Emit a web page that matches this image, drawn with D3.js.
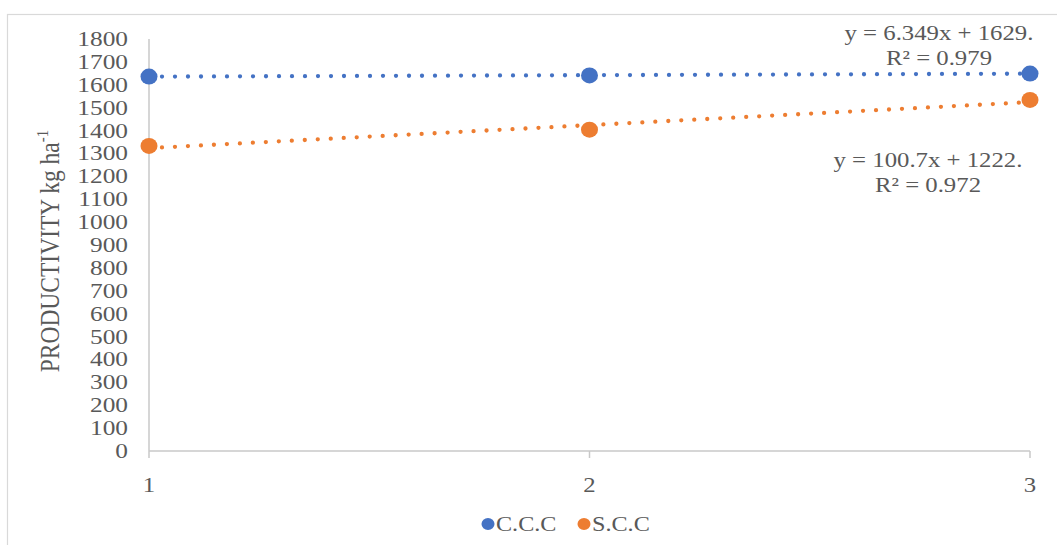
<!DOCTYPE html>
<html><head><meta charset="utf-8">
<script src="https://cdn.jsdelivr.net/npm/d3@7"></script>
<style>
html,body{margin:0;padding:0;background:#fff;}
svg text{font-family:"Liberation Serif","Times New Roman",serif;fill:#595959;}
</style></head>
<body>
<div id="chart"></div>
<script>
const xValues = [1, 2, 3];
const cccValues = [1636, 1641, 1649];
const sccValues = [1333, 1404, 1534];
const yTicks = [0,100,200,300,400,500,600,700,800,900,1000,1100,1200,1300,1400,1500,1600,1700,1800];
const seriesNames = ["C.C.C", "S.C.C"];
const seriesColors = ["#4472C4", "#ED7D31"];
const cccEquation = ["y = 6.349x + 1629.", "R² = 0.979"];
const sccEquation = ["y = 100.7x + 1222.", "R² = 0.972"];
const yTitle = "PRODUCTIVITY kg ha";
const yTitleSup = "-1";

const W = 1057, H = 545;
const sx = 1.18; // horizontal stretch of the reference
const svg = d3.select("#chart").append("svg").attr("width", W).attr("height", H);

// chart area border
svg.append("rect").attr("x", 7.5).attr("y", 14.5).attr("width", W + 10).attr("height", H + 10)
  .attr("fill", "none").attr("stroke", "#d9d9d9").attr("stroke-width", 1.2);

const x = d3.scaleLinear().domain([1, 3]).range([149, 1030]);
const y = d3.scaleLinear().domain([0, 1800]).range([451, 39]);

function sText(g, tx, ty, str, anchor, size) {
  return g.append("text").attr("transform", `translate(${tx},${ty}) scale(${sx},1)`)
    .attr("text-anchor", anchor).attr("font-size", size).text(str);
}

// axes
const axisColor = "#c8c8c8";
svg.append("line").attr("x1", x(1)).attr("x2", x(3)).attr("y1", y(0)).attr("y2", y(0))
  .attr("stroke", axisColor).attr("stroke-width", 1.5);
svg.append("line").attr("x1", x(1)).attr("x2", x(1)).attr("y1", y(1800)).attr("y2", y(0))
  .attr("stroke", axisColor).attr("stroke-width", 1.5);
xValues.forEach(v => {
  svg.append("line").attr("x1", x(v)).attr("x2", x(v)).attr("y1", y(0)).attr("y2", y(0) + 7)
    .attr("stroke", axisColor).attr("stroke-width", 1.5);
  sText(svg, x(v), 492, String(v), "middle", 21);
});
yTicks.forEach(t => {
  sText(svg, 128, y(t) + 7, String(t), "end", 21.5);
});

// y title
const yt = svg.append("text").attr("transform", `translate(59,251) rotate(-90) scale(1,${sx})`)
  .attr("text-anchor", "middle").attr("font-size", 23.5);
yt.append("tspan").text(yTitle);
yt.append("tspan").attr("font-size", 15).attr("dy", -9).text(yTitleSup);

// series
const series = [cccValues, sccValues];
series.forEach((vals, i) => {
  // least squares trend
  const mx = d3.mean(xValues), my = d3.mean(vals);
  let sxy = 0, sxx = 0;
  xValues.forEach((xv, k) => { sxy += (xv - mx) * (vals[k] - my); sxx += (xv - mx) ** 2; });
  const b = sxy / sxx, a = my - b * mx;
  const trend = [1, 3].map(xv => [xv, a + b * xv]);
  svg.append("path").attr("d", d3.line().x(d => x(d[0])).y(d => y(d[1]))(trend))
    .attr("fill", "none").attr("stroke", seriesColors[i]).attr("stroke-width", 4.3)
    .attr("stroke-linecap", "round").attr("stroke-dasharray", "0 13");
  svg.selectAll(null).data(vals).enter().append("ellipse")
    .attr("cx", (d, k) => x(xValues[k])).attr("cy", d => y(d))
    .attr("rx", 8.5).attr("ry", 8).attr("fill", seriesColors[i]);
});

// equations
sText(svg, 939, 40, cccEquation[0], "middle", 21);
sText(svg, 939, 65, cccEquation[1], "middle", 21);
sText(svg, 928, 167, sccEquation[0], "middle", 21);
sText(svg, 928, 192, sccEquation[1], "middle", 21);

// legend
const legX = [488, 584];
seriesNames.forEach((nm, i) => {
  svg.append("ellipse").attr("cx", legX[i]).attr("cy", 524).attr("rx", 6.5).attr("ry", 6)
    .attr("fill", seriesColors[i]);
  sText(svg, legX[i] + 8, 531, nm, "start", 20.5);
});
</script>
</body></html>
